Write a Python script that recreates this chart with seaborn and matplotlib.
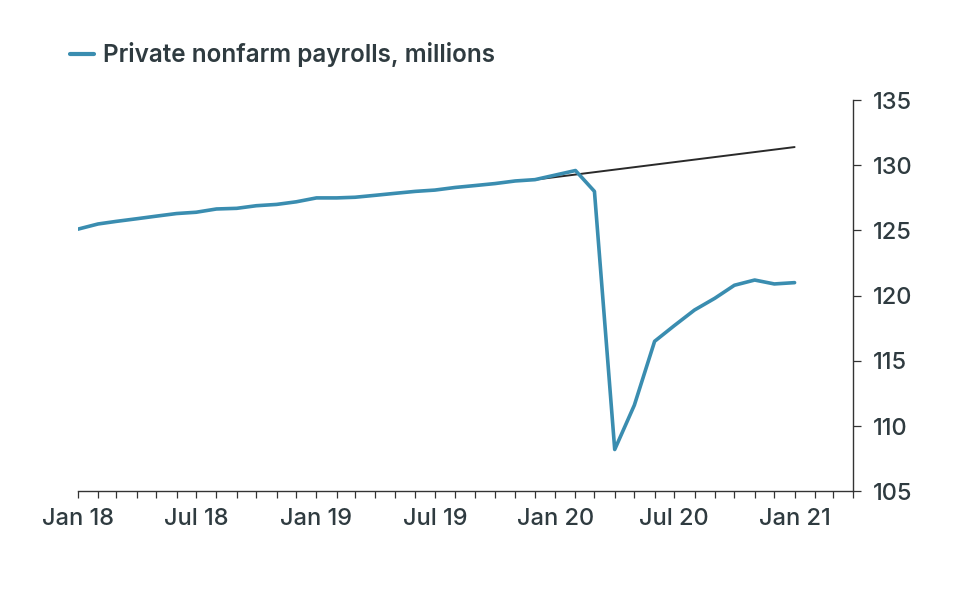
import pandas as pd
import matplotlib.pyplot as plt
import matplotlib.dates as mdates
import seaborn as sns

sns.set_style('white')
plt.rcParams['font.family'] = ['Inter', 'DejaVu Sans']

# monthly private nonfarm payrolls (millions), Jan 2018 - Jan 2021
months = pd.date_range('2018-01-01', '2021-01-01', freq='MS')
payrolls = [125.1, 125.5, 125.7, 125.9, 126.1, 126.3, 126.4, 126.65, 126.7, 126.9,
            127.0, 127.2, 127.5, 127.5, 127.55, 127.7, 127.85, 128.0, 128.1, 128.3,
            128.45, 128.6, 128.8, 128.9, 129.25, 129.6, 128.0, 108.2, 111.6, 116.5,
            117.7, 118.9, 119.8, 120.8, 121.2, 120.9, 121.0]

# pre-pandemic trend line
trend_dates = pd.to_datetime(['2019-12-01', '2021-01-01'])
trend_values = [128.9, 131.4]

df = pd.DataFrame({'date': months, 'payrolls': payrolls})
trend = pd.DataFrame({'date': trend_dates, 'value': trend_values})

blue = '#3a8db0'
text_col = '#2f3b40'

fig = plt.figure(figsize=(9.6, 5.89), dpi=100)
ax = fig.add_axes([0.081, 0.166, 0.808, 0.664])

sns.lineplot(data=trend, x='date', y='value', color='#2a2a2a', linewidth=1.4, ax=ax, legend=False)
sns.lineplot(data=df, x='date', y='payrolls', color=blue, linewidth=2.6, ax=ax,
             label='Private nonfarm payrolls, millions')

ax.set_xlim(pd.Timestamp('2018-01-01'), pd.Timestamp('2021-04-01'))
ax.set_ylim(105, 135)
ax.set_yticks(range(105, 136, 5))
ax.yaxis.tick_right()

ax.xaxis.set_major_locator(mdates.MonthLocator(bymonth=[1, 7]))
ax.xaxis.set_major_formatter(mdates.DateFormatter('%b %y'))
ax.xaxis.set_minor_locator(mdates.MonthLocator())

for s in ['left', 'top']:
    ax.spines[s].set_visible(False)
for s in ['right', 'bottom']:
    ax.spines[s].set_color('#333333')
    ax.spines[s].set_linewidth(1.0)

ax.tick_params(axis='x', which='both', direction='out', length=5, width=0.9,
               color='#333333', bottom=True, labelsize=17, labelcolor=text_col, pad=7)
ax.tick_params(axis='y', which='major', direction='out', length=6, width=0.9,
               color='#333333', right=True, labelsize=17, labelcolor=text_col, pad=8)
for lab in ax.get_xticklabels() + ax.get_yticklabels():
    lab.set_fontweight('medium')
ax.set_xlabel('')
ax.set_ylabel('')

leg = ax.legend(loc='upper left', bbox_to_anchor=(0.073, 0.928), bbox_transform=fig.transFigure,
                frameon=False, handlelength=1.0, handletextpad=0.35, fontsize=17.5,
                borderpad=0, borderaxespad=0)
for t in leg.get_texts():
    t.set_color(text_col)
    t.set_fontweight('semibold')
for h in leg.get_lines():
    h.set_linewidth(3)

fig.savefig('out.png', dpi=100)
